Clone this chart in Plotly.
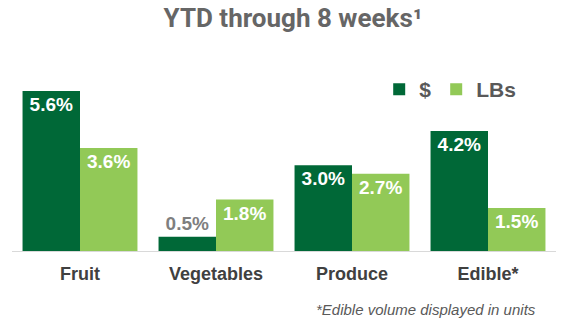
import plotly.graph_objects as go

categories = ["Fruit", "Vegetables", "Produce", "Edible*"]
dollars = [5.6, 0.5, 3.0, 4.2]
lbs = [3.6, 1.8, 2.7, 1.5]
dollar_labels = ["5.6%", "0.5%", "3.0%", "4.2%"]
lbs_labels = ["3.6%", "1.8%", "2.7%", "1.5%"]

DARK = "#006837"
LIGHT = "#92C957"
GRAY = "#7F7F7F"
DGRAY = "#404040"

fig = go.Figure()
fig.add_trace(go.Bar(
    x=categories, y=dollars, name="$", marker_color=DARK, marker_line_width=0,
    text=dollar_labels,
    textposition=["inside", "outside", "inside", "inside"],
    insidetextanchor="end",
    textfont=dict(family="Liberation Sans", size=19, weight="bold", color=["white", GRAY, "white", "white"]),
    outsidetextfont=dict(family="Liberation Sans", size=19, weight="bold", color=GRAY),
    cliponaxis=False,
))
fig.add_trace(go.Bar(
    x=categories, y=lbs, name="LBs", marker_color=LIGHT, marker_line_width=0,
    text=lbs_labels, textposition="inside", insidetextanchor="end",
    textfont=dict(family="Liberation Sans", size=19, weight="bold", color="white"),
    cliponaxis=False,
))

fig.update_layout(
    width=586, height=329,
    margin=dict(l=12, r=30, t=60, b=78),
    paper_bgcolor="white", plot_bgcolor="white",
    barmode="group", bargap=0.155, bargroupgap=0,
    uniformtext=dict(mode=False),
    showlegend=True,
    legend=dict(orientation="h", x=0.675, y=0.845, xanchor="left", yanchor="middle",
                font=dict(family="Liberation Sans", size=21, color="#595959", weight="bold"),
                itemwidth=30, traceorder="normal", bgcolor="rgba(0,0,0,0)"),
    title=dict(text="YTD through 8 weeks\u00b9", x=0.5, xanchor="center", y=0.945, yanchor="middle",
               font=dict(family="Roboto", size=26, color="#666666", weight="bold")),
    font=dict(family="Liberation Sans"),
)
fig.update_xaxes(showline=True, linecolor="#D9D9D9", linewidth=1, ticks="",
                 tickfont=dict(family="Liberation Sans", size=18, color=DGRAY, weight="bold"),
                 ticklabelstandoff=6,
                 showgrid=False)
fig.update_yaxes(range=[0, 6.68], visible=False, showgrid=False)
fig.add_annotation(text="<i>*Edible volume displayed in units</i>", xref="paper", yref="paper",
                   x=0.966, y=-0.305, xanchor="right", yanchor="middle", showarrow=False,
                   font=dict(family="Liberation Sans", size=15, color="#595959"))
fig.write_html("out.html")
